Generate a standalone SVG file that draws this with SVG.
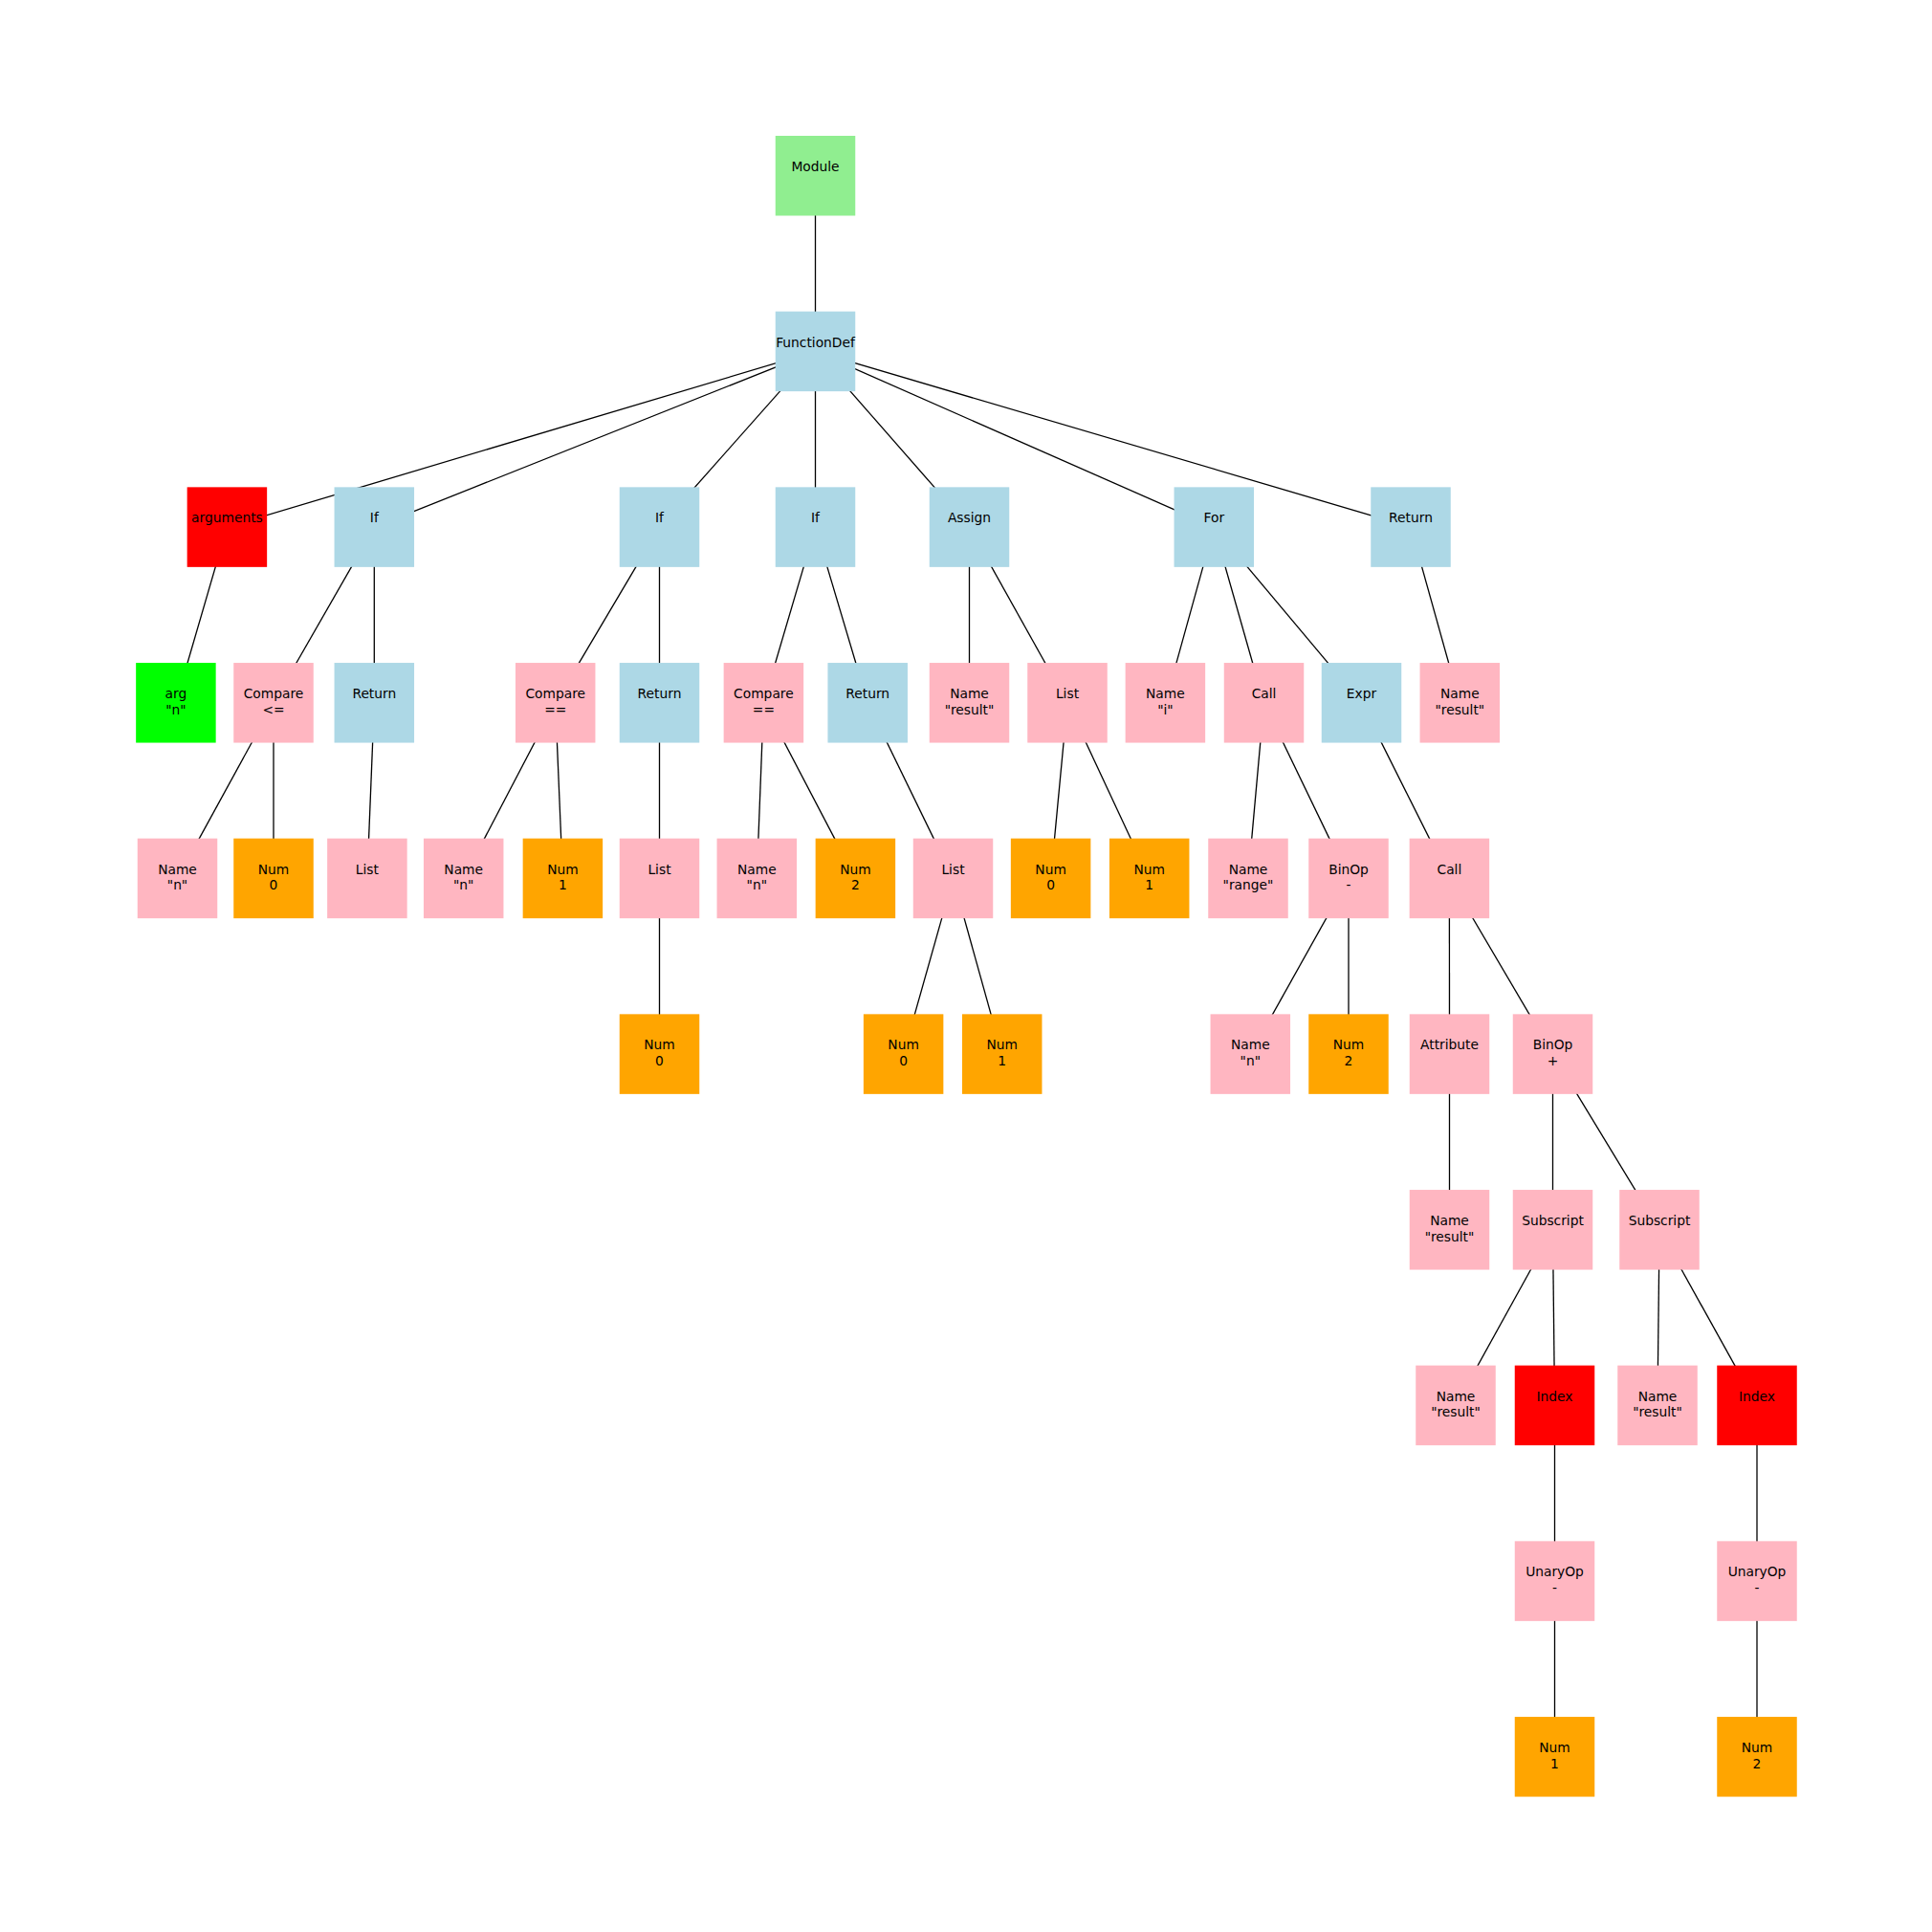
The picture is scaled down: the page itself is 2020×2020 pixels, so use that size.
<svg xmlns="http://www.w3.org/2000/svg" width="2020" height="2020" viewBox="0 0 2020 2020">
  <style>
    .edge { stroke: #000; stroke-width: 1.3; fill: none; }
    .box { stroke: none; }
    .module { fill: #90EE90; }
    .stmt { fill: #ADD8E6; }
    .expr { fill: #FFB6C1; }
    .num { fill: #FFA500; }
    .special { fill: #FF0000; }
    .arg { fill: #00FF00; }
    text { font-family: "DejaVu Sans", "Liberation Sans", sans-serif; font-size: 13.8px; fill: #000; text-anchor: middle; }
  </style>
  <defs>
    <rect id="sq" x="-41.75" y="-41.75" width="83.5" height="83.5"/>
  </defs>
  <rect width="2020" height="2020" fill="#fff"/>

  <!-- tree edges, centre to centre, drawn under the boxes -->
  <g id="connectors" class="edge">
    <line x1="852.5" y1="183.75" x2="852.5" y2="367.4"/>
    <line x1="852.5" y1="367.4" x2="237.4" y2="551.1"/>
    <line x1="852.5" y1="367.4" x2="391.3" y2="551.1"/>
    <line x1="852.5" y1="367.4" x2="689.5" y2="551.1"/>
    <line x1="852.5" y1="367.4" x2="852.5" y2="551.1"/>
    <line x1="852.5" y1="367.4" x2="1013.5" y2="551.1"/>
    <line x1="852.5" y1="367.4" x2="1269.3" y2="551.1"/>
    <line x1="852.5" y1="367.4" x2="1475" y2="551.1"/>
    <line x1="237.4" y1="551.1" x2="183.9" y2="734.8"/>
    <line x1="391.3" y1="551.1" x2="286" y2="734.8"/>
    <line x1="391.3" y1="551.1" x2="391.3" y2="734.8"/>
    <line x1="286" y1="734.8" x2="185.5" y2="918.4"/>
    <line x1="286" y1="734.8" x2="286" y2="918.4"/>
    <line x1="391.3" y1="734.8" x2="383.9" y2="918.4"/>
    <line x1="689.5" y1="551.1" x2="580.7" y2="734.8"/>
    <line x1="689.5" y1="551.1" x2="689.5" y2="734.8"/>
    <line x1="580.7" y1="734.8" x2="484.7" y2="918.4"/>
    <line x1="580.7" y1="734.8" x2="588.4" y2="918.4"/>
    <line x1="689.5" y1="734.8" x2="689.5" y2="918.4"/>
    <line x1="689.5" y1="918.4" x2="689.5" y2="1102.1"/>
    <line x1="852.5" y1="551.1" x2="798.4" y2="734.8"/>
    <line x1="852.5" y1="551.1" x2="907.2" y2="734.8"/>
    <line x1="798.4" y1="734.8" x2="791.3" y2="918.4"/>
    <line x1="798.4" y1="734.8" x2="894.4" y2="918.4"/>
    <line x1="907.2" y1="734.8" x2="996.5" y2="918.4"/>
    <line x1="996.5" y1="918.4" x2="944.6" y2="1102.1"/>
    <line x1="996.5" y1="918.4" x2="1047.7" y2="1102.1"/>
    <line x1="1013.5" y1="551.1" x2="1013.5" y2="734.8"/>
    <line x1="1013.5" y1="551.1" x2="1116" y2="734.8"/>
    <line x1="1116" y1="734.8" x2="1098.6" y2="918.4"/>
    <line x1="1116" y1="734.8" x2="1201.7" y2="918.4"/>
    <line x1="1269.3" y1="551.1" x2="1218.4" y2="734.8"/>
    <line x1="1269.3" y1="551.1" x2="1321.5" y2="734.8"/>
    <line x1="1269.3" y1="551.1" x2="1423.5" y2="734.8"/>
    <line x1="1321.5" y1="734.8" x2="1305" y2="918.4"/>
    <line x1="1321.5" y1="734.8" x2="1410" y2="918.4"/>
    <line x1="1410" y1="918.4" x2="1307.3" y2="1102.1"/>
    <line x1="1410" y1="918.4" x2="1410" y2="1102.1"/>
    <line x1="1423.5" y1="734.8" x2="1515.4" y2="918.4"/>
    <line x1="1515.4" y1="918.4" x2="1515.5" y2="1102.1"/>
    <line x1="1515.4" y1="918.4" x2="1623.5" y2="1102.1"/>
    <line x1="1515.5" y1="1102.1" x2="1515.5" y2="1285.8"/>
    <line x1="1623.5" y1="1102.1" x2="1623.5" y2="1285.8"/>
    <line x1="1623.5" y1="1102.1" x2="1735" y2="1285.8"/>
    <line x1="1623.5" y1="1285.8" x2="1522" y2="1469.4"/>
    <line x1="1623.5" y1="1285.8" x2="1625.5" y2="1469.4"/>
    <line x1="1625.5" y1="1469.4" x2="1625.5" y2="1653.1"/>
    <line x1="1625.5" y1="1653.1" x2="1625.5" y2="1836.8"/>
    <line x1="1735" y1="1285.8" x2="1733" y2="1469.4"/>
    <line x1="1735" y1="1285.8" x2="1837" y2="1469.4"/>
    <line x1="1837" y1="1469.4" x2="1837" y2="1653.1"/>
    <line x1="1837" y1="1653.1" x2="1837" y2="1836.8"/>
    <line x1="1475" y1="551.1" x2="1526.3" y2="734.8"/>
  </g>

  <!-- level 0-1 -->
  <g id="module" transform="translate(852.5,183.75)"><use href="#sq" class="module"/><text y="-4.75">Module</text></g>
  <g id="functiondef" transform="translate(852.5,367.4)"><use href="#sq" class="stmt"/><text y="-4.75">FunctionDef</text></g>

  <!-- level 2 -->
  <g id="arguments" transform="translate(237.4,551.1)"><use href="#sq" class="special"/><text y="-4.75">arguments</text></g>
  <g id="if1" transform="translate(391.3,551.1)"><use href="#sq" class="stmt"/><text y="-4.75">If</text></g>
  <g id="if2" transform="translate(689.5,551.1)"><use href="#sq" class="stmt"/><text y="-4.75">If</text></g>
  <g id="if3" transform="translate(852.5,551.1)"><use href="#sq" class="stmt"/><text y="-4.75">If</text></g>
  <g id="assign" transform="translate(1013.5,551.1)"><use href="#sq" class="stmt"/><text y="-4.75">Assign</text></g>
  <g id="for" transform="translate(1269.3,551.1)"><use href="#sq" class="stmt"/><text y="-4.75">For</text></g>
  <g id="return-final" transform="translate(1475,551.1)"><use href="#sq" class="stmt"/><text y="-4.75">Return</text></g>

  <!-- level 3 -->
  <g id="arg-n" transform="translate(183.9,734.8)"><use href="#sq" class="arg"/><text y="-4.75">arg</text><text y="11.75">"n"</text></g>
  <g id="compare1" transform="translate(286,734.8)"><use href="#sq" class="expr"/><text y="-4.75">Compare</text><text y="11.75">&lt;=</text></g>
  <g id="return1" transform="translate(391.3,734.8)"><use href="#sq" class="stmt"/><text y="-4.75">Return</text></g>
  <g id="compare2" transform="translate(580.7,734.8)"><use href="#sq" class="expr"/><text y="-4.75">Compare</text><text y="11.75">==</text></g>
  <g id="return2" transform="translate(689.5,734.8)"><use href="#sq" class="stmt"/><text y="-4.75">Return</text></g>
  <g id="compare3" transform="translate(798.4,734.8)"><use href="#sq" class="expr"/><text y="-4.75">Compare</text><text y="11.75">==</text></g>
  <g id="return3" transform="translate(907.2,734.8)"><use href="#sq" class="stmt"/><text y="-4.75">Return</text></g>
  <g id="assign-target" transform="translate(1013.5,734.8)"><use href="#sq" class="expr"/><text y="-4.75">Name</text><text y="11.75">"result"</text></g>
  <g id="assign-list" transform="translate(1116,734.8)"><use href="#sq" class="expr"/><text y="-4.75">List</text></g>
  <g id="for-target" transform="translate(1218.4,734.8)"><use href="#sq" class="expr"/><text y="-4.75">Name</text><text y="11.75">"i"</text></g>
  <g id="for-iter" transform="translate(1321.5,734.8)"><use href="#sq" class="expr"/><text y="-4.75">Call</text></g>
  <g id="for-body" transform="translate(1423.5,734.8)"><use href="#sq" class="stmt"/><text y="-4.75">Expr</text></g>
  <g id="return-value" transform="translate(1526.3,734.8)"><use href="#sq" class="expr"/><text y="-4.75">Name</text><text y="11.75">"result"</text></g>

  <!-- level 4 -->
  <g id="c1-left" transform="translate(185.5,918.4)"><use href="#sq" class="expr"/><text y="-4.75">Name</text><text y="11.75">"n"</text></g>
  <g id="c1-right" transform="translate(286,918.4)"><use href="#sq" class="num"/><text y="-4.75">Num</text><text y="11.75">0</text></g>
  <g id="r1-list" transform="translate(383.9,918.4)"><use href="#sq" class="expr"/><text y="-4.75">List</text></g>
  <g id="c2-left" transform="translate(484.7,918.4)"><use href="#sq" class="expr"/><text y="-4.75">Name</text><text y="11.75">"n"</text></g>
  <g id="c2-right" transform="translate(588.4,918.4)"><use href="#sq" class="num"/><text y="-4.75">Num</text><text y="11.75">1</text></g>
  <g id="r2-list" transform="translate(689.5,918.4)"><use href="#sq" class="expr"/><text y="-4.75">List</text></g>
  <g id="c3-left" transform="translate(791.3,918.4)"><use href="#sq" class="expr"/><text y="-4.75">Name</text><text y="11.75">"n"</text></g>
  <g id="c3-right" transform="translate(894.4,918.4)"><use href="#sq" class="num"/><text y="-4.75">Num</text><text y="11.75">2</text></g>
  <g id="r3-list" transform="translate(996.5,918.4)"><use href="#sq" class="expr"/><text y="-4.75">List</text></g>
  <g id="assign-num0" transform="translate(1098.6,918.4)"><use href="#sq" class="num"/><text y="-4.75">Num</text><text y="11.75">0</text></g>
  <g id="assign-num1" transform="translate(1201.7,918.4)"><use href="#sq" class="num"/><text y="-4.75">Num</text><text y="11.75">1</text></g>
  <g id="range-func" transform="translate(1305,918.4)"><use href="#sq" class="expr"/><text y="-4.75">Name</text><text y="11.75">"range"</text></g>
  <g id="range-arg" transform="translate(1410,918.4)"><use href="#sq" class="expr"/><text y="-4.75">BinOp</text><text y="11.75">-</text></g>
  <g id="append-call" transform="translate(1515.4,918.4)"><use href="#sq" class="expr"/><text y="-4.75">Call</text></g>

  <!-- level 5 -->
  <g id="r2-num0" transform="translate(689.5,1102.1)"><use href="#sq" class="num"/><text y="-4.75">Num</text><text y="11.75">0</text></g>
  <g id="r3-num0" transform="translate(944.6,1102.1)"><use href="#sq" class="num"/><text y="-4.75">Num</text><text y="11.75">0</text></g>
  <g id="r3-num1" transform="translate(1047.7,1102.1)"><use href="#sq" class="num"/><text y="-4.75">Num</text><text y="11.75">1</text></g>
  <g id="minus-left" transform="translate(1307.3,1102.1)"><use href="#sq" class="expr"/><text y="-4.75">Name</text><text y="11.75">"n"</text></g>
  <g id="minus-right" transform="translate(1410,1102.1)"><use href="#sq" class="num"/><text y="-4.75">Num</text><text y="11.75">2</text></g>
  <g id="attribute" transform="translate(1515.5,1102.1)"><use href="#sq" class="expr"/><text y="-4.75">Attribute</text></g>
  <g id="plus" transform="translate(1623.5,1102.1)"><use href="#sq" class="expr"/><text y="-4.75">BinOp</text><text y="11.75">+</text></g>

  <!-- level 6 -->
  <g id="attr-value" transform="translate(1515.5,1285.8)"><use href="#sq" class="expr"/><text y="-4.75">Name</text><text y="11.75">"result"</text></g>
  <g id="subscript1" transform="translate(1623.5,1285.8)"><use href="#sq" class="expr"/><text y="-4.75">Subscript</text></g>
  <g id="subscript2" transform="translate(1735,1285.8)"><use href="#sq" class="expr"/><text y="-4.75">Subscript</text></g>

  <!-- level 7 -->
  <g id="sub1-value" transform="translate(1522,1469.4)"><use href="#sq" class="expr"/><text y="-4.75">Name</text><text y="11.75">"result"</text></g>
  <g id="index1" transform="translate(1625.5,1469.4)"><use href="#sq" class="special"/><text y="-4.75">Index</text></g>
  <g id="sub2-value" transform="translate(1733,1469.4)"><use href="#sq" class="expr"/><text y="-4.75">Name</text><text y="11.75">"result"</text></g>
  <g id="index2" transform="translate(1837,1469.4)"><use href="#sq" class="special"/><text y="-4.75">Index</text></g>

  <!-- level 8 -->
  <g id="unary1" transform="translate(1625.5,1653.1)"><use href="#sq" class="expr"/><text y="-4.75">UnaryOp</text><text y="11.75">-</text></g>
  <g id="unary2" transform="translate(1837,1653.1)"><use href="#sq" class="expr"/><text y="-4.75">UnaryOp</text><text y="11.75">-</text></g>

  <!-- level 9 -->
  <g id="unary1-operand" transform="translate(1625.5,1836.8)"><use href="#sq" class="num"/><text y="-4.75">Num</text><text y="11.75">1</text></g>
  <g id="unary2-operand" transform="translate(1837,1836.8)"><use href="#sq" class="num"/><text y="-4.75">Num</text><text y="11.75">2</text></g>
</svg>
